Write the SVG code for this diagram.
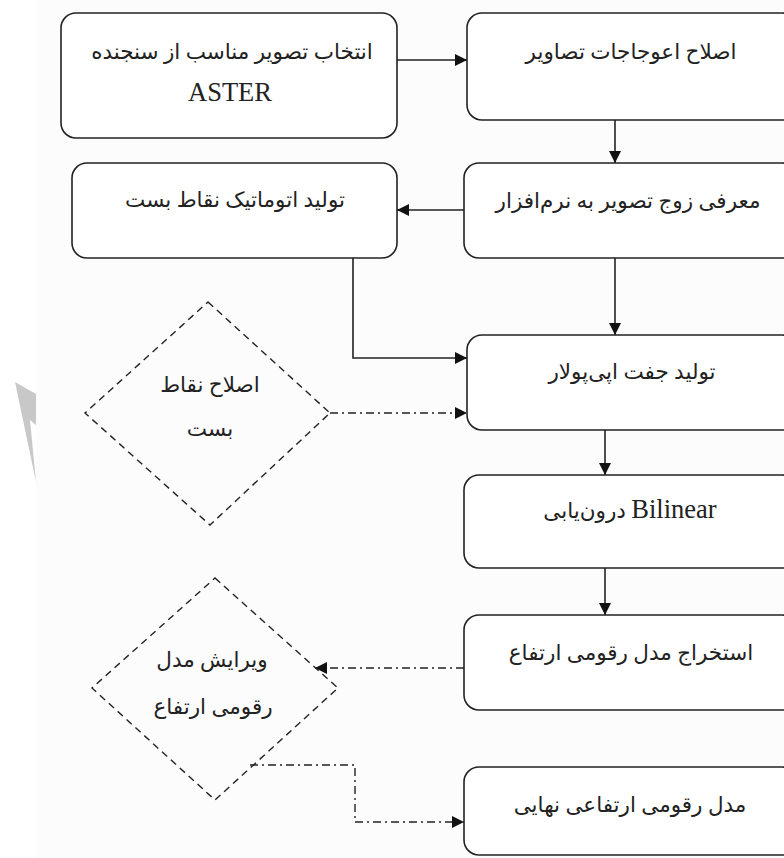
<svg xmlns="http://www.w3.org/2000/svg" width="784" height="858" viewBox="0 0 784 858">
<style>
.box{fill:#fff;stroke:#222;stroke-width:1.6}
.dia{fill:none;stroke:#222;stroke-width:1.4;stroke-dasharray:7 5}
.t{font-family:"Liberation Serif","DejaVu Sans",serif;font-size:21.5px;fill:#222;text-anchor:middle}
.l{font-size:26.5px}
.c{fill:none;stroke:#222;stroke-width:1.6}
.dd{fill:none;stroke:#222;stroke-width:1.4;stroke-dasharray:8 4 2 4}
</style>
<defs>
<marker id="ahb" viewBox="0 0 10 10" refX="10" refY="5" markerWidth="12" markerHeight="12" markerUnits="userSpaceOnUse" orient="auto">
<path d="M0,0 L10,5 L0,10 z" fill="#111"/>
</marker>
</defs>
<rect x="0" y="0" width="784" height="858" fill="#ffffff"/>
<rect x="36" y="0" width="748" height="858" fill="#fcfcfc"/>
<polygon points="15,382 36,394 36,425 30,420 36,482" fill="#c8c8c8"/>

<g id="connectors">
<path class="c" d="M397,60 L467,60" marker-end="url(#ahb)"/>
<path class="c" d="M615,120 L615,163" marker-end="url(#ahb)"/>
<path class="c" d="M464,210 L397,210" marker-end="url(#ahb)"/>
<path class="c" d="M353,258 L353,358 L467,358" marker-end="url(#ahb)"/>
<path class="c" d="M615,258 L615,335" marker-end="url(#ahb)"/>
<path class="dd" d="M330,413 L467,413" marker-end="url(#ahb)"/>
<path class="c" d="M605,430 L605,475" marker-end="url(#ahb)"/>
<path class="c" d="M605,568 L605,615" marker-end="url(#ahb)"/>
<path class="dd" d="M464,668 L315,668" marker-end="url(#ahb)"/>
<path class="dd" d="M250,765 L355,765 L355,822 L464,822" marker-end="url(#ahb)"/>
</g>

<g id="n1">
<rect class="box" x="61" y="13" width="336" height="125" rx="15"/>
<text class="t" x="232" y="59">انتخاب تصویر مناسب از سنجنده</text>
<text class="t l" x="230" y="101">ASTER</text>
</g>
<g id="n2">
<rect class="box" x="467" y="13" width="330" height="107" rx="15"/>
<text class="t" x="631" y="59">اصلاح اعوجاجات تصاویر</text>
</g>
<g id="n3">
<rect class="box" x="72" y="163" width="325" height="95" rx="15"/>
<text class="t" x="235" y="207">تولید اتوماتیک نقاط بست</text>
</g>
<g id="n4">
<rect class="box" x="464" y="163" width="333" height="95" rx="15"/>
<text class="t" x="628" y="208">معرفی زوج تصویر به نرم‌افزار</text>
</g>
<g id="n5">
<rect class="box" x="467" y="335" width="330" height="95" rx="15"/>
<text class="t" x="632" y="379">تولید جفت اپی‌پولار</text>
</g>
<g id="n6">
<rect class="box" x="464" y="475" width="333" height="93" rx="15"/>
<text class="t" x="630" y="518">درون‌یابی <tspan class="l">Bilinear</tspan></text>
</g>
<g id="n7">
<rect class="box" x="464" y="615" width="333" height="95" rx="15"/>
<text class="t" x="631" y="660">استخراج مدل رقومی ارتفاع</text>
</g>
<g id="n8">
<rect class="box" x="464" y="767" width="333" height="88" rx="15"/>
<text class="t" x="630" y="812">مدل رقومی ارتفاعی نهایی</text>
</g>
<g id="d1">
<polygon class="dia" points="208,302 330,413 210,525 85,413"/>
<text class="t" x="210" y="392">اصلاح نقاط</text>
<text class="t" x="210" y="436">بست</text>
</g>
<g id="d2">
<polygon class="dia" points="215,578 338,688 215,800 92,688"/>
<text class="t" x="212" y="667">ویرایش مدل</text>
<text class="t" x="213" y="714">رقومی ارتفاع</text>
</g>
</svg>
